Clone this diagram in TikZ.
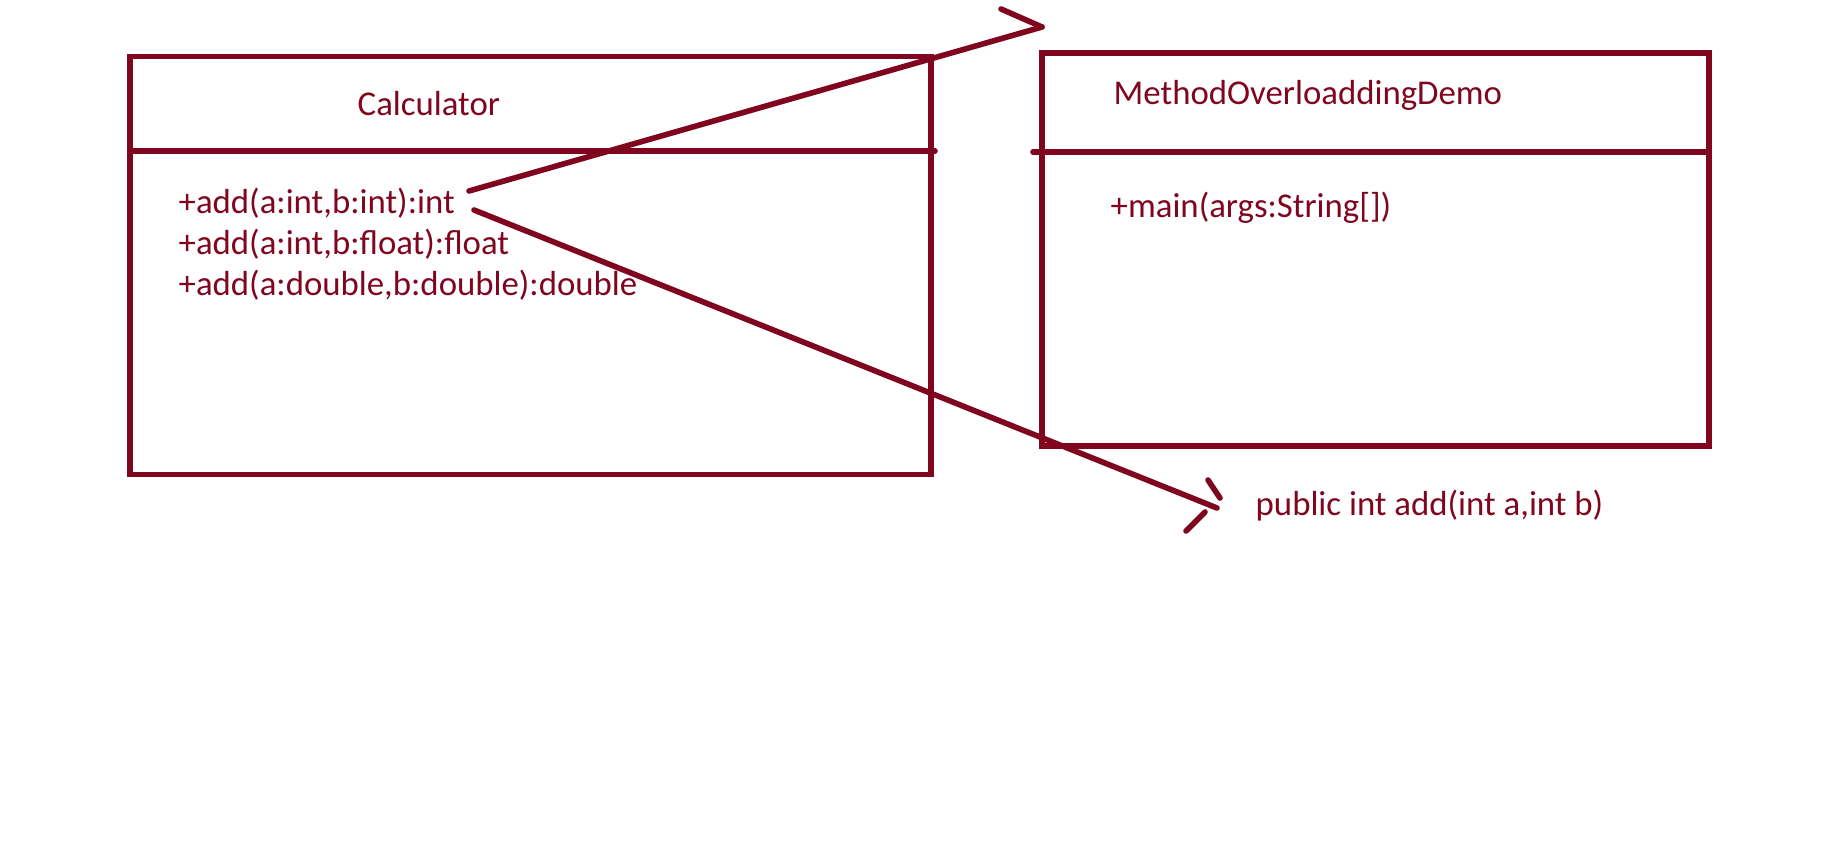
\documentclass[tikz,border=0pt]{standalone}
\usepackage{fontspec}
\setmainfont{Carlito}
\usepackage{xcolor}
\usetikzlibrary{positioning}
\definecolor{umlred}{RGB}{128,6,32}

\begin{document}
\begin{tikzpicture}[
  classbox/.style={rectangle, draw=umlred, line width=1.6pt},
  umltext/.style={text=umlred, font=\fontsize{9.9}{11}\selectfont, inner sep=0pt},
  link/.style={draw=umlred, line width=1.6pt, line cap=round}
]
\useasboundingbox (0,0) rectangle (18.31,-8.46);

% Calculator class
\node[classbox, minimum width=8.01cm, minimum height=4.18cm] (calc) at (5.305,-2.655) {};
\draw[link] (1.30,-1.51) -- (9.35,-1.51);
\node[umltext, anchor=base west] (calctitle) at (3.57,-1.16) {Calculator};
\node[umltext, anchor=base west] (m1) at (1.78,-2.13) {+add(a:int,b:int):int};
\node[umltext, anchor=base west] (m2) at (1.78,-2.54) {+add(a:int,b:float):float};
\node[umltext, anchor=base west] (m3) at (1.78,-2.95) {+add(a:double,b:double):double};

% MethodOverloaddingDemo class
\node[classbox, minimum width=6.67cm, minimum height=3.93cm] (demo) at (13.755,-2.495) {};
\draw[link] (10.33,-1.52) -- (17.09,-1.52);
\node[umltext, anchor=base west] (demotitle) at (11.13,-1.05) {MethodOverloaddingDemo};
\node[umltext, anchor=base west] (mainm) at (11.10,-2.17) {+main(args:String[])};

% Signature note
\node[umltext, anchor=base west] (sig) at (12.55,-5.15) {public int add(int a,int b)};

% Arrows from the first add
\coordinate (s1) at (4.69,-1.91);
\coordinate (t1) at (10.42,-0.27);
\draw[link] (s1) -- (t1);
\draw[link] (10.01,-0.09) -- (t1);

\coordinate (s2) at (4.74,-2.10);
\coordinate (t2) at (12.17,-5.08);
\draw[link] (s2) -- (t2);
\draw[link] (12.08,-4.80) -- (12.20,-4.98);
\draw[link] (12.05,-5.12) -- (11.86,-5.31);

\end{tikzpicture}
\end{document}
